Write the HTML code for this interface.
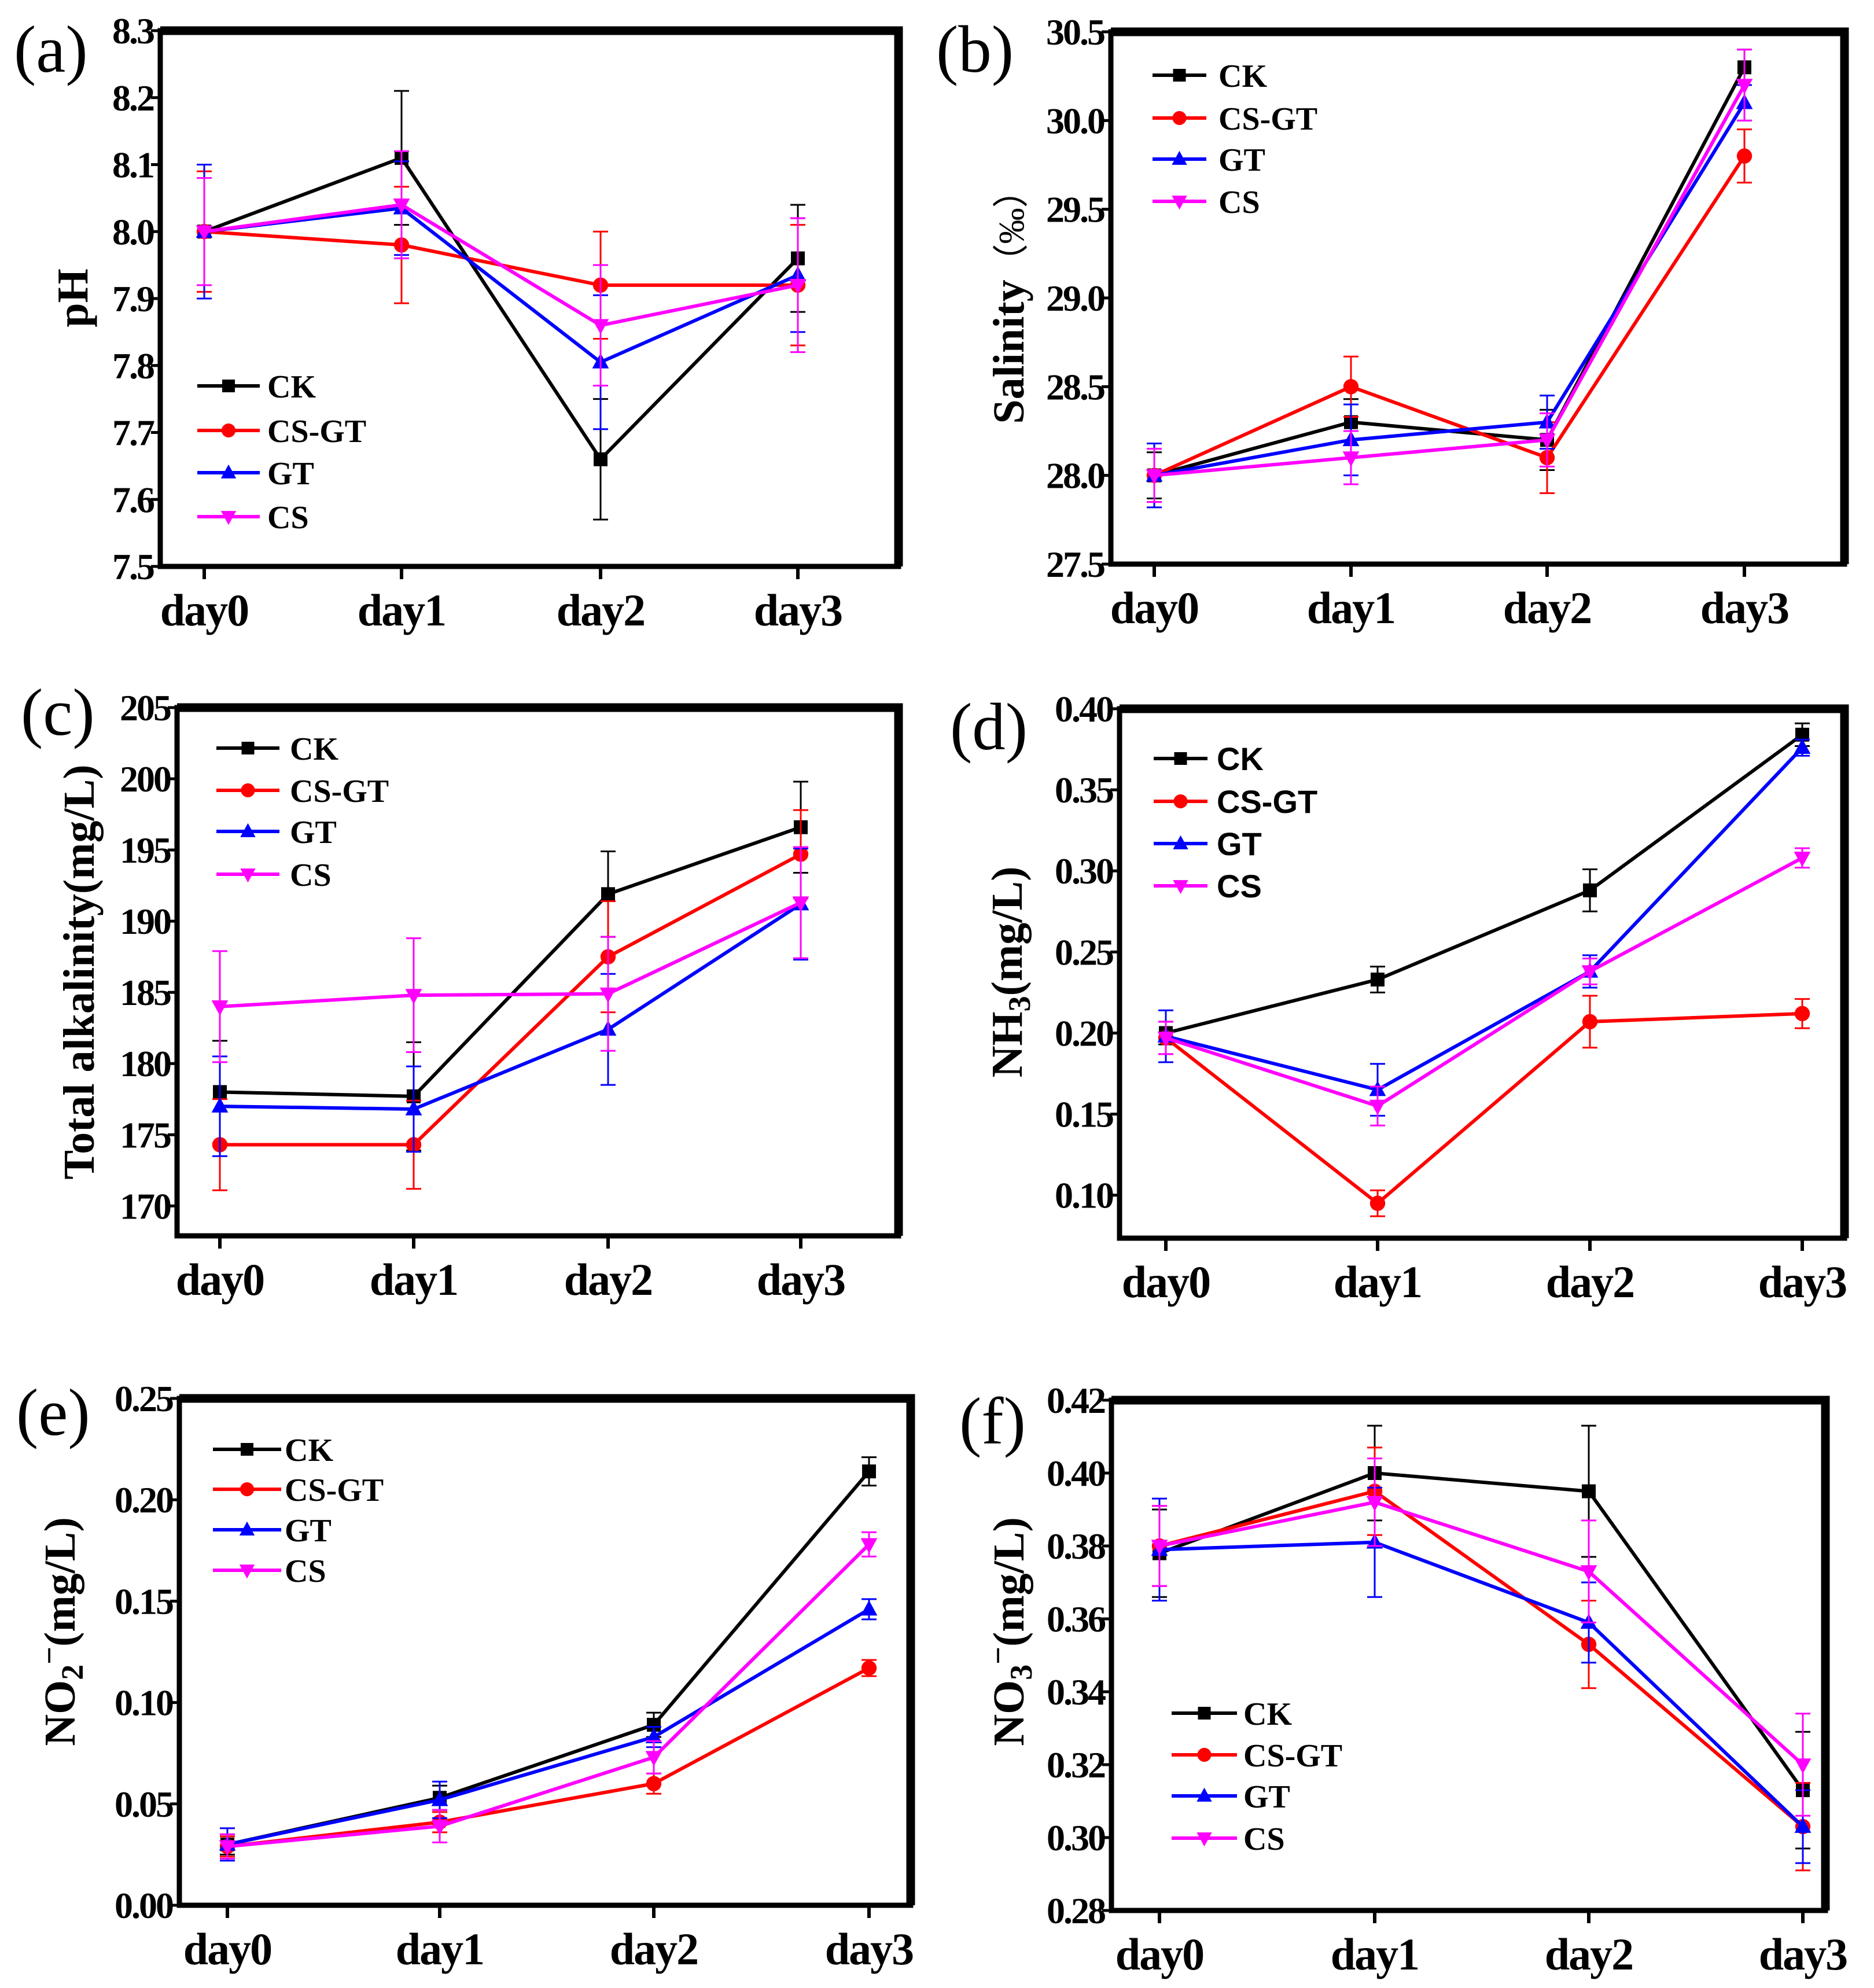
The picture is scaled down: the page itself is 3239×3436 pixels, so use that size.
<!DOCTYPE html>
<html><head><meta charset="utf-8"><style>
html,body{margin:0;padding:0;background:#fff;}
svg{display:block;}
text{font-family:"Liberation Serif",serif;font-weight:bold;fill:#000;}
</style></head>
<body>
<svg id="fig" width="3239" height="3436" viewBox="0 0 3239 3436" xmlns="http://www.w3.org/2000/svg"></svg>
<script>
const categories = ["day0","day1","day2","day3"];
const seriesNames = ["CK","CS-GT","GT","CS"];
// (a) pH
const aCK=[8.00,8.11,7.66,7.96], aCKe=[0.10,0.10,0.09,0.08];
const aCSGT=[8.00,7.98,7.92,7.92], aCSGTe=[0.09,0.087,0.08,0.09];
const aGT=[8.00,8.035,7.805,7.935], aGTe=[0.10,0.07,0.10,0.085];
const aCS=[8.00,8.04,7.86,7.92], aCSe=[0.08,0.08,0.09,0.10];
const aTicks=["7.5","7.6","7.7","7.8","7.9","8.0","8.1","8.2","8.3"];
// (b) salinity
const bCK=[28.0,28.3,28.2,30.3], bCKe=[0.13,0.13,0.17,0.10];
const bCSGT=[28.0,28.5,28.1,29.8], bCSGTe=[0.15,0.17,0.20,0.15];
const bGT=[28.0,28.2,28.3,30.1], bGTe=[0.18,0.20,0.15,0.10];
const bCS=[28.0,28.1,28.2,30.2], bCSe=[0.15,0.15,0.15,0.20];
const bTicks=["27.5","28.0","28.5","29.0","29.5","30.0","30.5"];
// (c) total alkalinity
const cCK=[178.0,177.7,191.9,196.6], cCKe=[3.6,3.8,3.0,3.2];
const cCSGT=[174.3,174.3,187.5,194.7], cCSGTe=[3.2,3.1,3.9,3.1];
const cGT=[177.0,176.8,182.4,191.2], cGTe=[3.5,3.0,3.9,3.9];
const cCS=[184.0,184.8,184.9,191.3], cCSe=[3.9,4.0,4.0,3.9];
const cTicks=["170","175","180","185","190","195","200","205"];
// (d) NH3
const dCK=[0.200,0.233,0.288,0.384], dCKe=[0.007,0.008,0.013,0.007];
const dCSGT=[0.197,0.095,0.207,0.212], dCSGTe=[0.010,0.008,0.016,0.009];
const dGT=[0.198,0.165,0.238,0.376], dGTe=[0.016,0.016,0.010,0.005];
const dCS=[0.197,0.155,0.238,0.308], dCSe=[0.010,0.012,0.008,0.006];
const dTicks=["0.10","0.15","0.20","0.25","0.30","0.35","0.40"];
// (e) NO2-
const eCK=[0.030,0.053,0.089,0.214], eCKe=[0.005,0.006,0.006,0.007];
const eCSGT=[0.029,0.041,0.060,0.117], eCSGTe=[0.005,0.005,0.005,0.004];
const eGT=[0.030,0.052,0.083,0.146], eGTe=[0.008,0.009,0.005,0.005];
const eCS=[0.029,0.039,0.073,0.178], eCSe=[0.006,0.008,0.008,0.006];
const eTicks=["0.00","0.05","0.10","0.15","0.20","0.25"];
// (f) NO3-
const fCK=[0.378,0.400,0.395,0.313], fCKe=[0.012,0.013,0.018,0.016];
const fCSGT=[0.380,0.395,0.353,0.303], fCSGTe=[0.011,0.012,0.012,0.012];
const fGT=[0.379,0.381,0.359,0.303], fGTe=[0.014,0.015,0.011,0.010];
const fCS=[0.380,0.392,0.373,0.320], fCSe=[0.011,0.012,0.014,0.014];
const fTicks=["0.28","0.30","0.32","0.34","0.36","0.38","0.40","0.42"];

const colors=["#000000","#ff0000","#0000ff","#ff00ff"];
const markers=["square","circle","tri-up","tri-down"];
const NS="http://www.w3.org/2000/svg";
const svg=document.getElementById('fig');
function mk(tag,attrs,parent){const e=document.createElementNS(NS,tag);for(const k in attrs)e.setAttribute(k,attrs[k]);(parent||svg).appendChild(e);return e;}

const panels=[
 {id:"a",label:"(a)",L:277,R:1553,T:53,B:979,ymin:7.5,ymax:8.3,ticks:aTicks,xs:[353,694,1038,1379],
  series:[[aCK,aCKe],[aCSGT,aCSGTe],[aGT,aGTe],[aCS,aCSe]],
  title:"pH",tx:127,ty:515,leg:{x1:341,x2:449,tx:462,ys:[667,744,817,893]},lab:[24,124]},
 {id:"b",label:"(b)",L:1920,R:3188,T:55,B:975,ymin:27.5,ymax:30.5,ticks:bTicks,xs:[1995,2335,2674,3015],
  series:[[bCK,bCKe],[bCSGT,bCSGTe],[bGT,bGTe],[bCS,bCSe]],
  title:"Salinity（‰）",tx:1745,ty:515,leg:{x1:1992,x2:2085,tx:2106,ys:[130,204,275,348]},lab:[1618,124]},
 {id:"c",label:"(c)",L:306,R:1553,T:1223,B:2136,ymin:167.9,ymax:205,ticks:cTicks,xs:[380,715,1051,1384],
  series:[[cCK,cCKe],[cCSGT,cCSGTe],[cGT,cGTe],[cCS,cCSe]],
  title:"Total alkalinity(mg/L)",tx:138,ty:1680,leg:{x1:374,x2:483,tx:501,ys:[1293,1366,1437,1511]},lab:[36,1270]},
 {id:"d",label:"(d)",L:1935,R:3188,T:1225,B:2140,ymin:0.0735,ymax:0.40,ticks:dTicks,xs:[2015,2381,2748,3115],
  series:[[dCK,dCKe],[dCSGT,dCSGTe],[dGT,dGTe],[dCS,dCSe]],
  title:"NH3",tx:1742,ty:1680,leg:{x1:1994,x2:2087,tx:2103,ys:[1311,1385,1458,1531],sans:true},lab:[1642,1295]},
 {id:"e",label:"(e)",L:310,R:1574,T:2417,B:3293,ymin:0,ymax:0.25,ticks:eTicks,xs:[393,760,1130,1502],
  series:[[eCK,eCKe],[eCSGT,eCSGTe],[eGT,eGTe],[eCS,eCSe]],
  title:"NO2",tx:105,ty:2820,leg:{x1:368,x2:486,tx:492,ys:[2505,2574,2644,2714]},lab:[28,2480]},
 {id:"f",label:"(f)",L:1921,R:3155,T:2420,B:3302,ymin:0.28,ymax:0.42,ticks:fTicks,xs:[2004,2376,2746,3116],
  series:[[fCK,fCKe],[fCSGT,fCSGTe],[fGT,fGTe],[fCS,fCSe]],
  title:"NO3",tx:1745,ty:2820,leg:{x1:2025,x2:2138,tx:2149,ys:[2961,3033,3104,3177]},lab:[1658,2495]}
];

function marker(g,type,x,y,s,color,name){
  let e;
  if(type==="square") e=mk('rect',{x:x-s,y:y-s,width:2*s,height:2*s,fill:color},g);
  else if(type==="circle") e=mk('circle',{cx:x,cy:y,r:s*1.1,fill:color},g);
  else if(type==="tri-up") e=mk('polygon',{points:`${x},${y-s*1.3} ${x-s*1.2},${y+s*0.9} ${x+s*1.2},${y+s*0.9}`,fill:color},g);
  else e=mk('polygon',{points:`${x},${y+s*1.3} ${x-s*1.2},${y-s*0.9} ${x+s*1.2},${y-s*0.9}`,fill:color},g);
  
  
  return e;
}

panels.forEach(p=>{
  const g=mk('g',{});
  
  
  const yS=v=>p.B-(v-p.ymin)/(p.ymax-p.ymin)*(p.B-p.T);
  p.ticks.forEach(t=>{
    const y=yS(parseFloat(t));
    const tk=mk('line',{x1:p.L-16,x2:p.L,y1:y,y2:y,stroke:'#000','stroke-width':5},g);
    
    
    const tl=mk('text',{x:p.L-12,y:y+22,'text-anchor':'end','font-size':64,'letter-spacing':-3},g);
    tl.textContent=t;
    
    
  });
  categories.forEach((c,i)=>{
    const x=p.xs[i];
    const tk=mk('line',{x1:x,x2:x,y1:p.B,y2:p.B+22,stroke:'#000','stroke-width':6},g);
    
    
    const tl=mk('text',{x:x,y:p.B+102,'text-anchor':'middle','font-size':78,'letter-spacing':-2},g);
    tl.textContent=c;
    
    
  });
  p.series.forEach((s,si)=>{
    const vals=s[0],errs=s[1],col=colors[si];
    const sg=mk('g',{},g);
    
    
    vals.forEach((v,i)=>{
      const x=p.xs[i],y1=yS(v+errs[i]),y2=yS(v-errs[i]);
      const eb=mk('path',{d:`M${x},${y1}V${y2}M${x-13},${y1}H${x+13}M${x-13},${y2}H${x+13}`,stroke:col,'stroke-width':3,fill:'none'},sg);
      
      
    });
    const pts=vals.map((v,i)=>p.xs[i]+','+yS(v)).join(' ');
    const ln=mk('polyline',{points:pts,stroke:col,'stroke-width':6,fill:'none'},sg);
    
    
    vals.forEach((v,i)=>marker(sg,markers[si],p.xs[i],yS(v),12,col,'point'));
  });
  const fr=mk('rect',{x:p.L,y:p.T,width:p.R-p.L,height:p.B-p.T,fill:'none',stroke:'#000','stroke-width':9},g);
  
  
  const fr2=mk('path',{d:`M${p.L},${p.T}H${p.R}V${p.B}`,fill:'none',stroke:'#000','stroke-width':15},g);
  
  
  const lg=mk('g',{},g);
  
  
  seriesNames.forEach((n,si)=>{
    const y=p.leg.ys[si];
    const ln=mk('line',{x1:p.leg.x1,x2:p.leg.x2,y1:y,y2:y,stroke:colors[si],'stroke-width':6},lg);
    
    
    marker(lg,markers[si],(p.leg.x1+p.leg.x2)/2,y,11,colors[si],'legend-marker');
    const t=mk('text',{x:p.leg.tx,y:y+20,'font-size':56},lg);
    if(p.leg.sans) t.setAttribute('style','font-family:"Liberation Sans",sans-serif');
    t.textContent=n;
    
    
  });
  const pl=mk('text',{x:p.lab[0],y:p.lab[1],'font-size':115,style:'font-weight:normal'},g);
  pl.textContent=p.label;
  
  
  const yt=mk('text',{x:0,y:0,'text-anchor':'middle','font-size':76,transform:`translate(${p.tx+24},${p.ty}) rotate(-90)`},g);
  if(p.title==="NH3"){
    yt.innerHTML='NH<tspan font-size="54" dy="14">3</tspan><tspan dy="-14">(mg/L)</tspan>';
  } else if(p.title==="NO2"){
    yt.innerHTML='NO<tspan font-size="54" dy="14">2</tspan><tspan font-size="54" dy="-40">−</tspan><tspan dy="26">(mg/L)</tspan>';
  } else if(p.title==="NO3"){
    yt.innerHTML='NO<tspan font-size="54" dy="14">3</tspan><tspan font-size="54" dy="-40">−</tspan><tspan dy="26">(mg/L)</tspan>';
  } else if(p.title==="Salinity（‰）"){
    yt.innerHTML='Salinity<tspan style="font-weight:normal;font-family:\'Liberation Serif\',\'Noto Sans CJK SC\',serif" font-size="62">（‰）</tspan>';
  } else yt.textContent=p.title;
  
  
});
</script>
</body></html>
